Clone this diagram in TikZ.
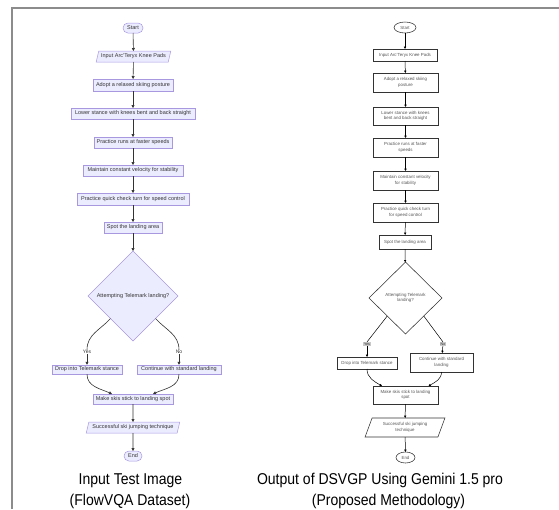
\documentclass[tikz,border=0pt]{standalone}
\usepackage{fontspec}
\setmainfont{Liberation Sans}
\usetikzlibrary{shapes.geometric,arrows.meta,calc}
\definecolor{mfill}{HTML}{ECECFF}
\definecolor{mline}{HTML}{A898E0}
\definecolor{mtext}{HTML}{333333}
\definecolor{gtext}{HTML}{555555}
\definecolor{gtag}{HTML}{C8C8C8}
\definecolor{framegray}{HTML}{8C8C8C}
\newcommand{\captxt}[1]{\scalebox{1}[1.12]{#1}}
\begin{document}
\begin{tikzpicture}[x=1pt,y=1pt,
  every node/.style={inner sep=0pt,outer sep=0pt},
  mbase/.style={draw=mline,fill=mfill,line width=0.5pt,text=mtext,font=\fontsize{5.5}{6.5}\selectfont},
  mbox/.style={mbase,rectangle,minimum width=#1},
  mterm/.style={mbase,rectangle,rounded corners=4.9pt,minimum width=#1,minimum height=10pt},
  mio/.style={mbase,trapezium,trapezium left angle=65,trapezium right angle=115,trapezium stretches=true,minimum width=#1,minimum height=11pt},
  mdec/.style={mbase,diamond,aspect=1,minimum width=90pt,minimum height=90pt},
  mlabel/.style={fill=white,text=mtext,font=\fontsize{5}{6}\selectfont,inner sep=0.5pt},
  marrow/.style={draw=mtext,line width=0.6pt,-{Triangle[length=3pt,width=3pt]}},
  gbase/.style={draw=black!80,fill=white,line width=0.55pt,text=gtext,font=\fontsize{4.4}{5.6}\selectfont,align=center},
  gbox/.style={gbase,rectangle,minimum width=#1},
  gterm/.style={gbase,ellipse,minimum width=#1,minimum height=11pt},
  gio/.style={gbase,trapezium,trapezium left angle=64,trapezium right angle=116,trapezium stretches=true,minimum width=80pt,minimum height=19pt},
  gdec/.style={gbase,diamond,minimum width=73pt,minimum height=72pt},
  glabel/.style={fill=gtag,text=black!80,font=\fontsize{3.6}{4}\selectfont,inner sep=0.8pt},
  garrow/.style={draw=black,line width=0.5pt,-{Triangle[length=2.3pt,width=2.2pt]}},
  caption/.style={font=\fontsize{14}{16}\selectfont,anchor=base}]
\useasboundingbox (0,0) rectangle (559,-509);
\draw[framegray,line width=1.4pt] (12,-509) -- (12,-8) -- (559,-8);
% input test image
\node[mterm=20pt] (lstart) at (133,-28) {Start};
\node[mio=75pt] (linput) at (133.5,-56.5) {Input Arc'Teryx Knee Pads};
\node[mbox=80pt,minimum height=12pt] (ladopt) at (133,-85) {Adopt a relaxed skiing posture};
\node[mbox=124pt,minimum height=11pt] (llower) at (133,-113.5) {Lower stance with knees bent and back straight};
\node[mbox=78pt,minimum height=11pt] (lruns) at (133,-142.5) {Practice runs at faster speeds};
\node[mbox=100pt,minimum height=11pt] (lmaint) at (133,-170.5) {Maintain constant velocity for stability};
\node[mbox=112pt,minimum height=12pt] (lcheck) at (133,-199) {Practice quick check turn for speed control};
\node[mbox=58pt,minimum height=11pt] (lspot) at (133,-227.5) {Spot the landing area};
\node[mdec] (ldec) at (133,-296) {Attempting Telemark landing?};
\node[mlabel] (lyes) at (87,-352) {Yes};
\node[mlabel] (lno) at (179,-352) {No};
\node[mbox=70pt,minimum height=9.5pt] (ldrop) at (87,-369.5) {Drop into Telemark stance};
\node[mbox=84pt,minimum height=9.5pt] (lcont) at (179,-369.5) {Continue with standard landing};
\node[mbox=80pt,minimum height=10pt] (lmake) at (133,-399) {Make skis stick to landing spot};
\node[mio=94pt] (lsucc) at (133,-427.5) {Successful ski jumping technique};
\node[mterm=18pt] (lend) at (133,-456) {End};
\draw[marrow] (lstart) -- (linput);
\draw[marrow] (linput) -- (ladopt);
\draw[marrow] (ladopt) -- (llower);
\draw[marrow] (llower) -- (lruns);
\draw[marrow] (lruns) -- (lmaint);
\draw[marrow] (lmaint) -- (lcheck);
\draw[marrow] (lcheck) -- (lspot);
\draw[marrow] (lspot) -- (ldec);
\draw[draw=mtext,line width=0.6pt] (ldec.south west) to[out=-132,in=90] (lyes.north);
\draw[draw=mtext,line width=0.6pt] (ldec.south east) to[out=-48,in=90] (lno.north);
\draw[marrow] (lyes) -- (ldrop);
\draw[marrow] (lno) -- (lcont);
\draw[marrow] (ldrop.south) to[out=-90,in=155] ($(lmake.north)+(-21,0)$);
\draw[marrow] (lcont.south) to[out=-90,in=25] ($(lmake.north)+(20,0)$);
\draw[marrow] (lmake) -- (lsucc);
\draw[marrow] (lsucc) -- (lend);
\node[caption] (lcap) at (130.5,-484) {\captxt{Input Test Image}};
\node[caption] (lsrc) at (130,-505) {\captxt{(FlowVQA Dataset)}};
% output of the proposed method
\node[gterm=22pt] (gstart) at (405,-27.5) {Start};
\node[gbox=64pt,minimum height=12pt] (ginput) at (405,-55) {Input Arc'Teryx Knee Pads};
\node[gbox=65pt,minimum height=19pt] (gadopt) at (405.5,-82.5) {Adopt a relaxed skiing\\posture};
\node[gbox=65pt,minimum height=18pt] (glower) at (405.5,-116) {Lower stance with knees\\bent and back straight};
\node[gbox=65pt,minimum height=19pt] (gruns) at (405.5,-147.5) {Practice runs at faster\\speeds};
\node[gbox=65pt,minimum height=19pt] (gmaint) at (405.5,-180.5) {Maintain constant velocity\\for stability};
\node[gbox=65pt,minimum height=19pt] (gcheck) at (405.5,-212.5) {Practice quick check turn\\for speed control};
\node[gbox=52pt,minimum height=14pt] (gspot) at (405,-242) {Spot the landing area};
\node[gdec] (gdec) at (405.5,-298) {Attempting Telemark\\landing?};
\node[glabel] (gyes) at (367,-344) {Yes};
\node[glabel] (gno) at (443,-344) {No};
\node[gbox=60pt,minimum height=12pt] (gdrop) at (367,-363) {Drop into Telemark stance};
\node[gbox=63pt,minimum height=19pt] (gcont) at (441.5,-362.5) {Continue with standard\\landing};
\node[gbox=65pt,minimum height=18pt] (gmake) at (405.5,-395) {Make skis stick to landing\\spot};
\node[gio] (gsucc) at (405,-427.5) {Successful ski jumping\\technique};
\node[gterm=19pt] (gend) at (405.5,-457.5) {End};
\draw[garrow] (gstart) -- (ginput);
\draw[garrow] (ginput) -- (gadopt);
\draw[garrow] (gadopt) -- (glower);
\draw[garrow] (glower) -- (gruns);
\draw[garrow] (gruns) -- (gmaint);
\draw[garrow] (gmaint) -- (gcheck);
\draw[garrow] (gcheck) -- (gspot);
\draw[garrow] (gspot) -- (gdec);
\draw[black,line width=0.5pt] (gdec.south west) -- (gyes.north);
\draw[black,line width=0.5pt] (gdec.south east) -- (gno.north);
\draw[garrow] (gyes) -- (gdrop);
\draw[garrow] (gno) -- (gcont);
\draw[garrow] (gdrop.south) to[out=-90,in=150] ($(gmake.north)+(-23.5,0)$);
\draw[garrow] (gcont.south) to[out=-90,in=30] ($(gmake.north)+(23,0)$);
\draw[garrow] (gmake) -- (gsucc);
\draw[garrow] (gsucc) -- (gend);
\node[caption] (gcap) at (380,-484) {\captxt{Output of DSVGP Using Gemini 1.5 pro}};
\node[caption] (gsrc) at (388.5,-505) {\captxt{(Proposed Methodology)}};
\end{tikzpicture}
\end{document}
